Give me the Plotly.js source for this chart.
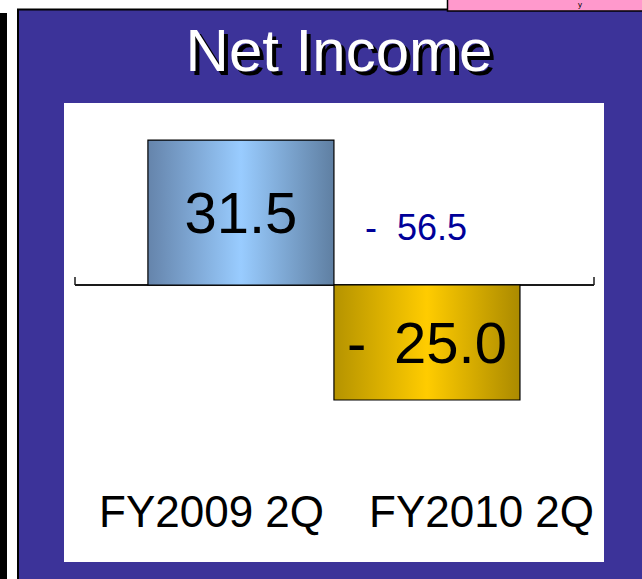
<!DOCTYPE html>
<html>
<head>
<meta charset="utf-8">
<script src="https://cdn.plot.ly/plotly-3.0.1.min.js"></script>
<style>html,body{margin:0;padding:0;background:#fff;}#chart{width:642px;height:579px;}</style>
</head>
<body>
<div id="chart"></div>
<script>
// ---- data ----
const categories = ["FY2009 2Q", "FY2010 2Q"];
const netIncome = [31.5, -25.0];
const chartTitle = "Net Income";

// ---- helpers ----
function fmt(v) {
  return v < 0 ? "-\u00a0\u2009" + Math.abs(v).toFixed(1) : v.toFixed(1);
}
const change = netIncome[1] - netIncome[0];
const changeLabel = (change < 0 ? "-\u00a0\u00a0" : "+\u00a0\u00a0") + Math.abs(change).toFixed(1);

// plot area geometry (pixels)
const W = 642, H = 579;
const L = 75, R = 48, T = 103, B = 17;
const pw = W - L - R, ph = H - T - B;
const px = p => (p - L) / pw;          // pixel x -> paper x
const py = p => (H - B - p) / ph;      // pixel y -> paper y

const font = "Liberation Sans, Arial, Helvetica, sans-serif";

const trace = {
  type: "bar",
  x: categories,
  y: netIncome,
  text: netIncome.map(fmt),
  textposition: "inside",
  insidetextanchor: "middle",
  constraintext: "none",
  textangle: 0,
  textfont: {family: font, size: 58, color: "#000"},
  marker: {color: ["#99ccff", "#ffcc00"], line: {color: "#000", width: 1.2}},
  hoverinfo: "none",
  width: 1
};

const layout = {
  width: W, height: H,
  margin: {l: L, r: R, t: T, b: B, pad: 0},
  paper_bgcolor: "#ffffff",
  plot_bgcolor: "rgba(0,0,0,0)",
  showlegend: false,
  bargap: 0,
  title: {
    text: chartTitle,
    font: {family: font, size: 60, color: "#ffffff", shadow: "4px 4px 0px #000000"},
    xref: "container", x: 0.528, xanchor: "center",
    yref: "container", y: 1 - 50 / H, yanchor: "middle"
  },
  xaxis: {
    type: "category",
    range: [-0.892, 1.898],
    showticklabels: false, showline: false, showgrid: false, zeroline: false, ticks: "",
    fixedrange: true
  },
  yaxis: {
    range: [-(H - B - 285) / 4.6, (285 - T) / 4.6],
    showticklabels: false, showline: false, showgrid: false,
    zeroline: true, zerolinecolor: "#1a1a1a", zerolinewidth: 1.5,
    ticks: "", fixedrange: true
  },
  shapes: [
    // left black strip
    {type: "rect", layer: "below", xref: "paper", yref: "paper",
     x0: px(-2), x1: px(7), y0: py(585), y1: py(13), fillcolor: "#000", line: {width: 0}},
    // purple panel
    {type: "rect", layer: "below", xref: "paper", yref: "paper",
     x0: px(18), x1: px(660), y0: py(600), y1: py(9.5), fillcolor: "#3c3399", line: {color: "#000", width: 2}},
    // white chart area
    {type: "rect", layer: "below", xref: "paper", yref: "paper",
     x0: px(64), x1: px(604), y0: py(562), y1: py(103), fillcolor: "#ffffff", line: {width: 0}},
    // pink box top right
    {type: "rect", layer: "below", xref: "paper", yref: "paper",
     x0: px(447.5), x1: px(660), y0: py(11), y1: py(-10), fillcolor: "#ff99cc", line: {color: "#000", width: 1.5}},
    // end ticks of the baseline
    {type: "line", layer: "above", xref: "paper", yref: "y", ysizemode: "pixel", yanchor: 0,
     x0: 0, x1: 0, y0: 0, y1: 8, line: {color: "#1a1a1a", width: 1.5}},
    {type: "line", layer: "above", xref: "paper", yref: "y", ysizemode: "pixel", yanchor: 0,
     x0: 1, x1: 1, y0: 0, y1: 8, line: {color: "#1a1a1a", width: 1.5}}
  ],
  annotations: [
    {text: categories[0], xref: "paper", yref: "paper", x: px(97), xanchor: "left",
     y: py(511), yanchor: "middle", showarrow: false,
     font: {family: font, size: 44, color: "#000"}},
    {text: categories[1], xref: "paper", yref: "paper", x: px(596), xanchor: "right",
     y: py(511), yanchor: "middle", showarrow: false,
     font: {family: font, size: 44, color: "#000"}},
    {text: changeLabel, xref: "paper", yref: "paper", x: px(416), xanchor: "center",
     y: py(227), yanchor: "middle", showarrow: false,
     font: {family: font, size: 36, color: "#000099"}},
    {text: "y", xref: "paper", yref: "paper", x: px(580), xanchor: "center",
     y: py(4.5), yanchor: "middle", showarrow: false, borderpad: 0,
     font: {family: font, size: 8, color: "#000"}}
  ]
};

Plotly.newPlot("chart", [trace], layout, {displayModeBar: false, staticPlot: true}).then(function (gd) {
  const svg = gd.querySelector("svg.main-svg");
  let defs = svg.querySelector("defs");
  const NS = "http://www.w3.org/2000/svg";
  if (!defs) { defs = document.createElementNS(NS, "defs"); svg.insertBefore(defs, svg.firstChild); }
  const grads = [
    {id: "gradBlue", stops: ["#6584ab", "#99ccff", "#5f7fa2"]},
    {id: "gradGold", stops: ["#b59300", "#ffcc00", "#ab8a00"]}
  ];
  grads.forEach(function (g) {
    const lg = document.createElementNS(NS, "linearGradient");
    lg.setAttribute("id", g.id);
    lg.setAttribute("x1", "0"); lg.setAttribute("y1", "0");
    lg.setAttribute("x2", "1"); lg.setAttribute("y2", "0");
    g.stops.forEach(function (c, i) {
      const s = document.createElementNS(NS, "stop");
      s.setAttribute("offset", (i / (g.stops.length - 1)).toString());
      s.setAttribute("stop-color", c);
      lg.appendChild(s);
    });
    defs.appendChild(lg);
  });
  const paths = gd.querySelectorAll(".trace.bars .point path");
  paths.forEach(function (p, i) {
    p.style.fill = "url(#" + grads[i % grads.length].id + ")";
  });
});
</script>
</body>
</html>
